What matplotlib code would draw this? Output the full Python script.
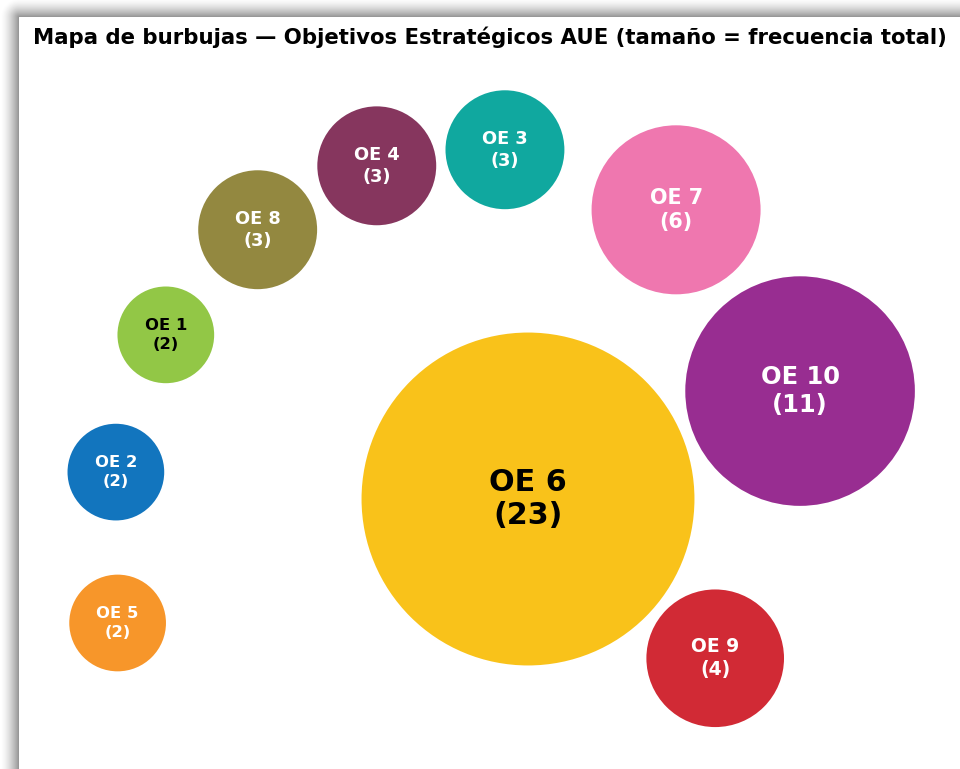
import numpy as np
import matplotlib.pyplot as plt
from matplotlib.patches import Circle

# datos: objetivos estratégicos y su frecuencia total
labels = ["OE 1", "OE 2", "OE 5", "OE 8", "OE 4", "OE 3", "OE 7", "OE 10", "OE 6", "OE 9"]
values = [2, 2, 2, 3, 3, 3, 6, 11, 23, 4]

# posición de cada burbuja (resultado del empaquetado, unidades de radio)
layout_x = [-10.37, -11.80, -11.75, -7.74, -4.33, -0.66, 4.24, 7.79, 0.0, 5.36]
layout_y = [4.70, 0.77, -3.55, 7.71, 9.54, 10.0, 8.28, 3.09, 0.0, -4.56]

colors = ["#92C746", "#1275BE", "#F7962A", "#938840", "#86365E",
          "#10A89F", "#EF77AF", "#982D91", "#F9C21A", "#D12A35"]
text_colors = ["black", "white", "white", "white", "white",
               "white", "white", "white", "black", "white"]

W, H, DPI = 960, 769, 100
fig = plt.figure(figsize=(W / DPI, H / DPI), dpi=DPI)

# sombra gris alrededor del lienzo blanco (borde izquierdo y superior)
x0, y0 = 19, 17
xx, yy = np.meshgrid(np.arange(W) + 0.5, np.arange(H) + 0.5)
dx = np.clip(x0 - xx, 0, None)
dy = np.clip(y0 - yy, 0, None)
dist = np.sqrt(dx ** 2 + dy ** 2)
shade = 1 - 0.42 * np.clip(1 - dist / 19, 0, 1) ** 1.6
bg = fig.add_axes([0, 0, 1, 1])
bg.imshow(shade, cmap="gray", vmin=0, vmax=1, extent=[0, W, H, 0], interpolation="bilinear")
bg.set_axis_off()

# lienzo principal
ax = fig.add_axes([x0 / W, 0, (W - x0) / W, (H - y0) / H])
scale = 167.5 / np.sqrt(23)  # px por unidad
ax.set_xlim((x0 - 528) / scale, (W - 528) / scale)
ax.set_ylim((499 - H) / scale, (499 - y0) / scale)
ax.set_aspect("equal")
ax.set_axis_off()
ax.add_patch(plt.Rectangle((0, 0), 1, 1, transform=ax.transAxes, color="white", zorder=0))

for lab, v, x, y, c, tc in zip(labels, values, layout_x, layout_y, colors, text_colors):
    r = np.sqrt(v)
    ax.add_patch(Circle((x, y), r, facecolor=c, edgecolor="white", linewidth=1.5, zorder=2))
    fs = 7.7 + 2.92 * np.sqrt(v)
    ls = 1.32 - 0.0075 * v
    ax.text(x, y, f"{lab}\n({v})", ha="center", va="center", fontsize=fs,
            fontweight="bold", color=tc, linespacing=ls, zorder=3)

fig.text(33 / W, 1 - 37 / H,
         "Mapa de burbujas — Objetivos Estratégicos AUE (tamaño = frecuencia total)",
         ha="left", va="center", fontsize=15.3, fontweight="bold")

fig.savefig("out.png", dpi=DPI)
